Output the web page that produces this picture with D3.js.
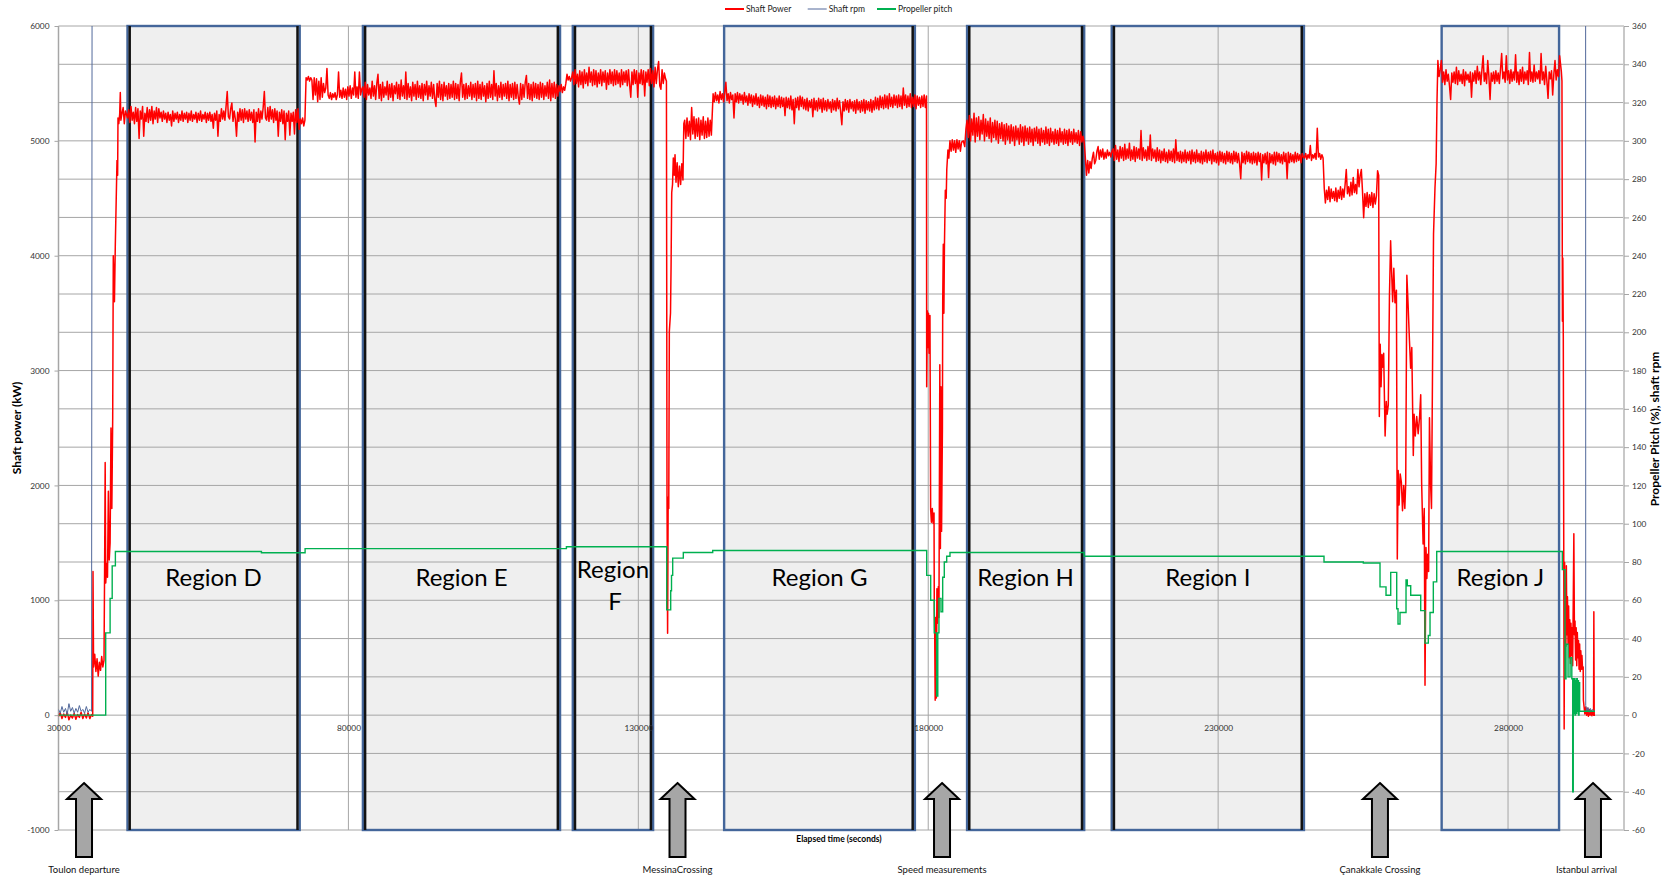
<!DOCTYPE html>
<html>
<head>
<meta charset="utf-8">
<script src="https://cdn.jsdelivr.net/npm/d3@7"></script>
<style>
  body { margin: 0; background: #fff; }
  svg { display: block; }
  text { font-family: Lato, "Open Sans", "Noto Sans", sans-serif; }
</style>
</head>
<body>
<svg id="chart" width="1676" height="881"></svg>
<script>
// ---------------- data ----------------
// elapsed time in seconds, shaft power in kW, pitch in %, rpm in rev/min

const timeTicks  = [30000, 80000, 130000, 180000, 230000, 280000];
const powerTicks = [-1000, 0, 1000, 2000, 3000, 4000, 5000, 6000];
const pctTicks   = [-60, -40, -20, 0, 20, 40, 60, 80, 100, 120, 140, 160, 180, 200,
                    220, 240, 260, 280, 300, 320, 340, 360];

const regionNames = ["Region D", "Region E", "Region F", "Region G", "Region H", "Region I", "Region J"];
const regionStart = [41900, 82500, 118700, 144800, 186700, 211650, 268550];
const regionEnd   = [71600, 116500, 132550, 177700, 206900, 244800, 288800];

const eventNames = ["Toulon departure", "MessinaCrossing", "Speed measurements", "Çanakkale Crossing", "Istanbul arrival"];
const eventTimes = [34400, 136760, 182380, 257910, 294650];

// steady legs are logged every LOG_STEP seconds
const LOG_STEP = 200;

// harbour, unmooring and run-up (irregular samples)
const powerDeparture = [
  [30000,-10],[30300,20],[30600,-30],[30900,10],[31200,-20],[31500,25],[31800,-40],[32100,0],
  [32400,-25],[32700,15],[33000,-35],[33300,5],[33600,-20],[33900,25],[34200,-30],[34500,10],
  [34800,-25],[35100,20],[35400,-30],[35700,5],[35900,-10],
  [35950,1250],[36050,420],[36250,530],[36450,380],[36650,490],[36850,340],[37050,460],[37250,390],
  [37450,510],[37650,420],[37850,480],
  [37950,1250],[38050,2200],[38150,1150],[38300,1320],[38450,1200],[38600,1950],[38750,1350],
  [38900,1500],[39050,2500],[39200,1800],[39350,2600],[39450,4000],[39650,3600],[39800,4100],
  [39950,4480],[40090,4830],[40200,4700],[40260,5200],[40400,5150],[40550,5230],[40660,5420],
  [40760,5180],[40950,5240],[41150,5290],[41350,5150],[41550,5260]
];

const legD = { start: 41900, kW: [
  5200,5270,5160,5300,5180,5250,5150,5290,5170,5280,
  5020,5260,5190,5300,5040,5240,5170,5290,5160,5270,
  5180,5300,5150,5260,5190,5290,5160,5280,5200,5250,
  5170,5260,5190,5240,5160,5250,5180,5230,5130,5260,
  5170,5240,5190,5250,5160,5230,5180,5260,5170,5240,
  5190,5250,5160,5240,5180,5260,5170,5230,5190,5250,
  5160,5240,5180,5260,5170,5230,5190,5250,5160,5240,
  5180,5250,5170,5230,5110,5240,5180,5260,5040,5230,
  5170,5280,5190,5260,5180,5300,5430,5210,5190,5280,
  5330,5170,5260,5190,5040,5250,5170,5280,5180,5270,
  5160,5280,5190,5260,5170,5270,5180,5250,5160,5270,
  4990,5250,5170,5280,5160,5260,5190,5290,5430,5200,
  5180,5290,5170,5300,5190,5270,5160,5280,5180,5260,
  5040,5250,5170,5270,5150,5260,5010,5240,5170,5260,
  5050,5240,5170,5250,5060,5270,5160,5280,5100
]};

const legDE = { start: 71700, kW: [
  5190,5150,5200,5130,5180,5550,5530,5560,5520,5550,
  5530,5360,5550,5400,5540,5340,5520,5360,5550,5380,
  5500,5420,5460,5630,5400,5370,5420,5360,5410,5380,
  5420,5360,5400,5600,5380,5440,5370,5460,5380,5450,
  5360,5470,5390,5480,5370,5460,5400,5600,5380,5470,
  5370,5600,5400,5450
]};

const legE = { start: 82500, kW: [
  5470,5380,5510,5360,5490,5400,5460,5370,5520,5390,
  5480,5360,5500,5580,5370,5490,5350,5510,5380,5470,
  5400,5520,5360,5490,5380,5500,5350,5480,5410,5510,
  5370,5490,5360,5530,5390,5480,5370,5600,5360,5500,
  5380,5470,5350,5510,5390,5490,5360,5520,5380,5480,
  5370,5500,5350,5490,5400,5520,5360,5480,5390,5510,
  5370,5490,5360,5300,5500,5380,5520,5360,5490,5350,
  5510,5390,5480,5360,5500,5370,5490,5380,5520,5360,
  5500,5370,5490,5350,5510,5590,5380,5490,5360,5500,
  5370,5480,5390,5510,5360,5490,5380,5500,5350,5520,
  5370,5490,5360,5510,5390,5480,5340,5500,5370,5520,
  5380,5490,5360,5610,5390,5500,5350,5480,5380,5510,
  5360,5490,5390,5500,5370,5520,5350,5490,5380,5500,
  5360,5510,5370,5490,5380,5320,5500,5360,5490,5380,
  5510,5570,5370,5500,5360,5490,5350,5510,5380,5500,
  5370,5490,5360,5510,5380,5500,5360,5480,5390,5510,
  5370,5530,5350,5500,5380,5510,5370,5490,5390,5480
]};

const legEF = { start: 116500, kW: [5430,5490,5420,5470,5440,5500,5580,5530,5560,5520,5550] };

const legF = { start: 118700, kW: [
  5600,5490,5620,5500,5580,5470,5610,5490,5600,5460,
  5620,5500,5590,5480,5640,5510,5600,5480,5620,5490,
  5610,5470,5590,5500,5620,5480,5600,5510,5610,5450,
  5590,5490,5620,5500,5600,5480,5620,5490,5610,5500,
  5590,5470,5620,5490,5600,5510,5610,5480,5620,5490,
  5380,5600,5490,5620,5500,5610,5380,5590,5500,5620,
  5490,5610,5390,5600,5510,5620,5480,5630,5500,5610,
  5470,5640,5500,5620,5690,5480,5450,5620,5500,5590,
  5540
]};

// Strait of Messina: slow-down and run-up
const powerMessina = [
  [134850,5520],[134950,1900],[135050,714],[135150,1900],[135250,1800],[135350,3340],
  [135550,3500],[135650,3910],[135760,4550],[135900,4620],[136035,4850],[136200,4700],
  [136330,4880],[136500,4640],[136700,4810],[136900,4600],[137100,4780],[137300,4620],
  [137500,4800],[137700,4660],[137850,5150]
];

const legMessinaExit = { start: 138000, kW: [
  5180,5020,5200,5040,5170,5010,5290,5060,5210,5020,5190,5040,
  5200,5010,5180,5050,5210,5020,5170,5030,5200,5040,5180,5050
]};

const legG = { start: 142900, kW: [
  5410,5340,5420,5350,5400,5330,5430,5360,5410,5340,
  5420,5510,5350,5410,5330,5420,5360,5400,5200,5410,
  5340,5420,5330,5410,5350,5400,5320,5420,5340,5390,
  5310,5410,5330,5400,5300,5390,5320,5410,5310,5380,
  5290,5400,5310,5390,5300,5380,5280,5400,5300,5390,
  5290,5380,5300,5390,5280,5370,5300,5390,5290,5380,
  5300,5370,5220,5380,5290,5370,5280,5390,5270,5360,
  5150,5370,5290,5380,5270,5390,5300,5380,5280,5360,
  5270,5370,5260,5350,5290,5360,5210,5370,5270,5350,
  5260,5370,5280,5360,5250,5370,5270,5350,5260,5360,
  5280,5340,5250,5360,5270,5350,5260,5370,5280,5350,
  5250,5140,5340,5260,5360,5270,5350,5250,5360,5280,
  5340,5260,5350,5240,5360,5270,5340,5250,5350,5260,
  5360,5240,5350,5270,5340,5260,5360,5250,5350,5270,
  5380,5280,5370,5270,5390,5290,5380,5280,5400,5290,
  5390,5280,5410,5300,5380,5290,5400,5310,5390,5290,
  5400,5300,5390,5280,5460,5310,5400,5290,5390,5300,
  5410,5290,5380,5300,5400,5280,5390,5310,5380,5290,
  5390,5300,5400,5290,5390
]};

// speed trials
const powerSpeedTrials = [
  [179735,2860],[179850,3520],[179950,3200],[180050,3500],[180150,3150],[180300,3480],
  [180420,1790],[180550,1680],[180700,1800],[180850,1670],[181000,1760],[181050,900],
  [181120,700],[181200,130],[181300,850],[181400,150],[181500,1100],[181600,800],
  [181750,1120],[181850,850],[182000,3050],[182100,1450],[182200,2860],[182300,1600],
  [182450,2500],[182500,3600],[182600,4100],[182700,3500],[182800,4100],[182950,4570],
  [183100,4500],[183200,4750],[183400,4920],[183550,4850],[183750,5000],[183950,4910],
  [184150,5010],[184350,4920],[184550,5000],[184750,4900],[184950,5010],[185150,4930],
  [185350,5000],[185550,4910],[185750,4990],[186050,5000],[186300,4950],[186500,5100]
];

const legH = { start: 186700, kW: [
  5180,5030,5220,5000,5190,5050,5240,4990,5200,5040,
  5210,5010,5180,5060,5230,5000,5190,5040,5170,5020,
  5200,4990,5160,5030,5180,5010,5170,4980,5150,5020,
  5160,5000,5140,4970,5150,5010,5130,4980,5140,5000,
  5120,4960,5130,5010,5110,4970,5140,4990,5120,4960,
  5130,5000,5110,4970,5120,4990,5100,4960,5110,5000,
  5120,4980,5100,4960,5110,4990,5090,4970,5120,4980,
  5100,4960,5110,4990,5080,4970,5100,4980,5090,4960,
  5110,4990,5080,4970,5100,4980,5090,4960,5100,4990,
  5080,4970,5100,4990,5070,4980,5090,4960,5080,4990,
  5040
]};

const legHI = { start: 206900, kW: [
  4990,4850,4700,4830,4720,4820,4760,4850,4900,4800,4830,4910,4950,
  4840,4920,4860,4930,4840,4900,4850,4920,4870,4900,4860,4910
]};

const legI = { start: 211900, kW: [
  4930,4830,4960,4840,4920,4820,4950,4850,4940,4830,
  4970,4840,4930,4850,4980,4830,4920,4840,4950,4820,
  4940,4850,4930,4840,5090,4830,4940,4850,4920,4830,
  4950,4840,5050,4830,4930,4850,4920,4820,4940,4830,
  4920,4810,4910,4830,4930,4820,4900,4810,4920,4830,
  4910,4820,4930,4810,5010,4830,4900,4820,4910,4810,
  4900,4820,4920,4810,4900,4830,4910,4800,4920,4820,
  4900,4810,4920,4820,4890,4810,4910,4800,4900,4820,
  4920,4810,4900,4830,4910,4800,4920,4820,4890,4810,
  4900,4790,4910,4820,4900,4810,4890,4800,4910,4820,
  4900,4810,4890,4800,4910,4820,4900,4810,4890,4800,
  4670,4900,4810,4890,4800,4910,4820,4900,4810,4890,
  4800,4900,4810,4890,4790,4900,4820,4890,4660,4880,
  4810,4890,4800,4900,4680,4890,4810,4880,4800,4900,
  4790,4900,4820,4890,4810,4880,4800,4900,4820,4890,
  4670,4900,4810,4890,4820,4880,4810,4900,4820,4890,
  4830,4880,4810,4890,4860
]};

const legIC = { start: 244900, kW: [4850,4890,4840,4880,4850,4960,4830,4880,4850,4890,4840,5110,4860,4890,4840,4880,4850] };

const legDardanelles = { start: 248300, kW: [
  4590,4460,4570,4490,4600,4470,4580,4500,4560,4480,
  4590,4470,4570,4500,4600,4490,4580,4510,4620,4750,
  4540,4600,4520,4640,4530,4680,4550,4620,4540,4750,
  4600,4700,4750,4560,4330,4540,4430,4550,4420,4530,
  4440,4550,4420,4540,4450,4520,4740
]};

// Çanakkale strait manoeuvring
const powerCanakkale = [
  [257692,4700],[257800,2600],[257950,3230],[258100,2860],[258250,3140],[258400,3030],
  [258550,3150],[258800,2430],[259000,2730],[259150,2620],[259350,2700],[259550,3660],
  [259750,4130],[259900,3890],[260100,3600],[260300,3890],[260500,3590],[260750,3700],
  [260900,1360],[261050,2130],[261200,1830],[261400,2100],[261600,2030],[261800,1780],
  [262000,2000],[262200,1800],[262350,2020],[262550,3830],[262750,3590],[263000,3260],
  [263200,3020],[263400,3200],[263660,2260],[263800,2620],[264000,2430],[264250,2600],
  [264500,2450],[264750,2600],[264940,2790],[265100,2020],[265350,1490],[265550,1800],
  [265680,260],[265850,1460],[266000,1190],[266150,1400],[266300,1250],[266450,2590],
  [266650,2000],[266800,1800],[267000,3160],[267150,4190],[267400,4590],[267600,4800],
  [267750,5350],[267900,5700]
];

const legJ = { start: 268100, kW: [
  5560,5620,5700,5510,5600,5490,5620,5520,5580,5480,
  5360,5590,5510,5600,5500,5640,5490,5610,5520,5580,
  5500,5620,5480,5600,5530,5580,5510,5600,5380,5590,
  5520,5610,5500,5650,5530,5600,5490,5620,5740,5520,
  5590,5500,5700,5560,5360,5590,5520,5600,5500,5610,
  5520,5590,5500,5620,5760,5540,5600,5510,5740,5530,
  5610,5500,5620,5520,5600,5530,5750,5510,5600,5490,
  5620,5520,5640,5500,5600,5530,5610,5490,5770,5520,
  5600,5510,5660,5520,5600,5540,5610,5500,5760,5530,
  5600,5490,5650,5520,5370,5600,5540,5610,5400,5580,
  5700,5530,5620,5560,5740
]};

// Bosphorus approach and mooring
const powerArrival = [
  [289200,5600],[289300,5520],[289380,3430],[289450,3980],[289530,3300],[289600,1670],
  [289680,-120],[289760,1330],[289830,320],[289900,1050],[289980,600],[290060,1300],
  [290150,700],[290250,1030],[290350,620],[290450,950],[290550,500],[290650,830],
  [290750,450],[290850,800],[290950,520],[291050,760],[291150,430],[291250,1000],
  [291350,1580],[291450,700],[291550,820],[291650,480],[291750,760],[291850,430],
  [291950,720],[292050,500],[292150,650],[292250,400],[292350,620],[292450,380],
  [292550,560],[292650,400],[292750,520],[292850,400],[292960,420],[293000,130],
  [293100,80],[293250,10],[293400,70],[293550,0],[293700,60],[293850,-10],[294000,50],
  [294150,0],[294300,40],[294450,-5],[294600,30],[294750,0],[294800,900],[294860,0],
  [295000,0]
];

// propeller pitch, % (held until the next entry)
const propellerPitch = [
  [30000,0],[38140,43],[38900,61],[39260,78],[39810,85.5],[65000,84.8],[72530,87],[117600,88],
  [134900,55],[135585,65],[135725,73],[135930,82],[137760,85],[142830,86],
  [179735,73],[180425,60],[181045,43],[181450,10],[181650,43],[181850,61],[182201,54],
  [182494,72],[182770,80],[183184,83],[183753,85],[206900,83],[248260,80],[255040,79.5],
  [257920,67],[258955,62.6],[259765,74.6],[260800,55.6],[261025,47.6],[261370,53.6],
  [262405,70.6],[262630,67.6],[263215,62.6],[264940,54.6],[265680,37.6],[266250,41.6],
  [266545,53.6],[267115,69.6],[267700,85.5],[289360,76],[289825,19],[290000,37],
  [290350,20],[290700,30],[291000,19],[291150,-40],[291250,19],[291350,1],[291450,19],
  [291550,0],[291650,18],[291750,1],[291850,19],[291950,2],[292050,18],[292150,0],
  [292250,17],[292350,2],[292800,2],[295000,2]
];

// shaft rpm; under way the reading is far above the right-hand scale
const shaftRpm = [
  [30000,3],[30300,1],[30600,4.5],[30900,1.5],[31200,3.5],[31500,0.5],[31800,6],[32100,2],
  [32400,4],[32700,1],[33000,3.5],[33300,1.5],[33600,5],[33900,2],[34200,3],[34500,1],
  [34800,4.5],[35100,1.5],[35400,3],[35700,2],[35950,1030],[293350,1030],[293400,5],
  [293600,2],[293800,4],[294000,1.5],[294200,3.5],[294400,2],[294600,3],[294800,2]
];

// ---------------- assembly ----------------
function logged(leg) {
  return leg.kW.map((v, i) => [leg.start + i * LOG_STEP, v]);
}

const shaftPower = [].concat(
  powerDeparture, logged(legD), logged(legDE), logged(legE), logged(legEF), logged(legF),
  powerMessina, logged(legMessinaExit), logged(legG), powerSpeedTrials, logged(legH),
  logged(legHI), logged(legI), logged(legIC), logged(legDardanelles), powerCanakkale,
  logged(legJ), powerArrival
).sort((a, b) => a[0] - b[0]);

// ---------------- drawing ----------------
const svg = d3.select("#chart");
const plot = { left: 58.5, right: 1624, top: 26, bottom: 830 };

const x = d3.scaleLinear().domain([30000, 300000]).range([plot.left, plot.right]);
const yPower = d3.scaleLinear().domain([-1000, 6000]).range([plot.bottom, plot.top]);
const yPct = d3.scaleLinear().domain([-60, 360]).range([plot.bottom, plot.top]);

const COLORS = { power: "#ff0000", rpm: "#52699b", pitch: "#00b050",
                 grid: "#a6a6a6", box: "#44669a", boxFill: "#efefef", edge: "#111" };

svg.append("defs").append("clipPath").attr("id", "plotClip")
  .append("rect").attr("x", plot.left).attr("y", plot.top)
  .attr("width", plot.right - plot.left).attr("height", plot.bottom - plot.top);

// region shading
const regions = regionNames.map((name, i) => ({ name, t0: regionStart[i], t1: regionEnd[i] }));
svg.append("g").selectAll("rect").data(regions).join("rect")
  .attr("x", d => x(d.t0)).attr("y", yPower(6000))
  .attr("width", d => x(d.t1) - x(d.t0)).attr("height", yPower(-1000) - yPower(6000))
  .attr("fill", COLORS.boxFill);

// gridlines
const grid = svg.append("g").attr("stroke", COLORS.grid).attr("stroke-width", 1);
grid.selectAll("line.h").data(pctTicks).join("line").attr("class", "h")
  .attr("x1", plot.left).attr("x2", plot.right)
  .attr("y1", d => yPct(d)).attr("y2", d => yPct(d));
grid.selectAll("line.v").data(timeTicks.slice(1)).join("line").attr("class", "v")
  .attr("y1", plot.top).attr("y2", plot.bottom)
  .attr("x1", d => x(d)).attr("x2", d => x(d));

// axis lines
svg.append("line").attr("x1", plot.left).attr("x2", plot.left)
  .attr("y1", plot.top).attr("y2", plot.bottom).attr("stroke", "#a6a6a6").attr("stroke-width", 1.5);
svg.append("line").attr("x1", plot.right).attr("x2", plot.right)
  .attr("y1", plot.top).attr("y2", plot.bottom).attr("stroke", "#c8c8c8").attr("stroke-width", 2);

// region outlines; several boundaries carry a dark marker line on the inside
const darkEdgeRegions = [[1, 1], [1, 1], [1, 1], [0, 1], [1, 1], [1, 1], [0, 0]];
const outlines = svg.append("g");
outlines.selectAll("rect").data(regions).join("rect")
  .attr("x", d => x(d.t0)).attr("y", yPower(6000))
  .attr("width", d => x(d.t1) - x(d.t0)).attr("height", yPower(-1000) - yPower(6000))
  .attr("fill", "none").attr("stroke", COLORS.box).attr("stroke-width", 2.4);
regions.forEach((d, i) => {
  const [l, r] = darkEdgeRegions[i];
  if (l) outlines.append("line").attr("x1", x(d.t0) + 2.2).attr("x2", x(d.t0) + 2.2)
    .attr("y1", yPower(6000)).attr("y2", yPower(-1000)).attr("stroke", COLORS.edge).attr("stroke-width", 2.5);
  if (r) outlines.append("line").attr("x1", x(d.t1) - 2.2).attr("x2", x(d.t1) - 2.2)
    .attr("y1", yPower(6000)).attr("y2", yPower(-1000)).attr("stroke", COLORS.edge).attr("stroke-width", 2.5);
});

// series
const series = svg.append("g").attr("clip-path", "url(#plotClip)").attr("fill", "none");
series.append("path").datum(shaftPower)
  .attr("d", d3.line().x(d => x(d[0])).y(d => yPower(d[1])))
  .attr("stroke", COLORS.power).attr("stroke-width", 1.5).attr("stroke-linejoin", "round");
series.append("path").datum(shaftRpm)
  .attr("d", d3.line().x(d => x(d[0])).y(d => yPct(d[1])))
  .attr("stroke", COLORS.rpm).attr("stroke-width", 1);
series.append("path").datum(propellerPitch)
  .attr("d", d3.line().curve(d3.curveStepAfter).x(d => x(d[0])).y(d => yPct(d[1])))
  .attr("stroke", COLORS.pitch).attr("stroke-width", 1.4);

// region names
const labelG = svg.append("g").attr("font-size", 24).attr("text-anchor", "middle").attr("fill", "#000");
regions.forEach(d => {
  const cx = (x(d.t0) + x(d.t1)) / 2;
  const words = d.name.split(" ");
  const narrow = x(d.t1) - x(d.t0) < 110;
  if (narrow) {
    labelG.append("text").attr("x", cx).attr("y", 578).text(words[0]);
    labelG.append("text").attr("x", cx + 2).attr("y", 610).text(words[1]);
  } else {
    labelG.append("text").attr("x", cx).attr("y", 586).text(d.name);
  }
});

// axes
function styleAxis(g) {
  g.select(".domain").remove();
  g.selectAll(".tick line").attr("stroke", "#a6a6a6");
  g.selectAll(".tick text").attr("font-size", 8.3).attr("fill", "#333")
    .attr("font-family", "Lato, 'Open Sans', sans-serif");
}
svg.append("g").attr("transform", `translate(${plot.left},0)`)
  .call(d3.axisLeft(yPower).tickValues(powerTicks).tickSize(4).tickPadding(5).tickFormat(d => String(d)))
  .call(styleAxis);
svg.append("g").attr("transform", `translate(${plot.right},0)`)
  .call(d3.axisRight(yPct).tickValues(pctTicks).tickSize(5).tickPadding(3).tickFormat(d => String(d)))
  .call(styleAxis);
svg.append("g").attr("transform", `translate(0,${yPower(0)})`)
  .call(d3.axisBottom(x).tickValues(timeTicks).tickSize(0).tickPadding(10).tickFormat(d => String(d)))
  .call(styleAxis);

// axis titles
svg.append("text").attr("transform", "translate(21,428) rotate(-90)")
  .attr("text-anchor", "middle").attr("font-size", 12).attr("font-weight", "bold")
  .text("Shaft power (kW)");
svg.append("text").attr("transform", "translate(1659,429) rotate(-90)")
  .attr("text-anchor", "middle").attr("font-size", 12).attr("font-weight", "bold")
  .text("Propeller Pitch (%), shaft rpm");
svg.append("text").attr("x", 839).attr("y", 841.5)
  .attr("text-anchor", "middle").attr("font-size", 8.5).attr("font-weight", "bold")
  .text("Elapsed time (seconds)");

// legend
const legendItems = [
  { label: "Shaft Power", color: COLORS.power, x: 725 },
  { label: "Shaft rpm", color: COLORS.rpm, x: 807.7 },
  { label: "Propeller pitch", color: COLORS.pitch, x: 877 }
];
const legend = svg.append("g");
legendItems.forEach(d => {
  legend.append("line").attr("x1", d.x).attr("x2", d.x + 19).attr("y1", 9).attr("y2", 9)
    .attr("stroke", d.color).attr("stroke-width", d.label === "Shaft rpm" ? 1 : 2);
  legend.append("text").attr("x", d.x + 21).attr("y", 12).attr("font-size", 8.5)
    .attr("fill", "#222").text(d.label);
});

// voyage milestones
const arrows = svg.append("g");
eventNames.forEach((name, i) => {
  const ax = x(eventTimes[i]);
  const tip = 783, neck = 799, base = 857;
  arrows.append("path")
    .attr("d", `M${ax},${tip} L${ax + 17},${neck} L${ax + 8},${neck} L${ax + 8},${base} L${ax - 8},${base} L${ax - 8},${neck} L${ax - 17},${neck} Z`)
    .attr("fill", "#a6a6a6").attr("stroke", "#000").attr("stroke-width", 2).attr("stroke-linejoin", "miter");
  const t = arrows.append("text").attr("y", 873).attr("font-size", 9.5)
    .attr("text-anchor", "middle").attr("fill", "#111").text(name);
  const w = t.node().getComputedTextLength();
  t.attr("x", Math.min(ax, plot.right - 7 - w / 2));
});
</script>
</body>
</html>
